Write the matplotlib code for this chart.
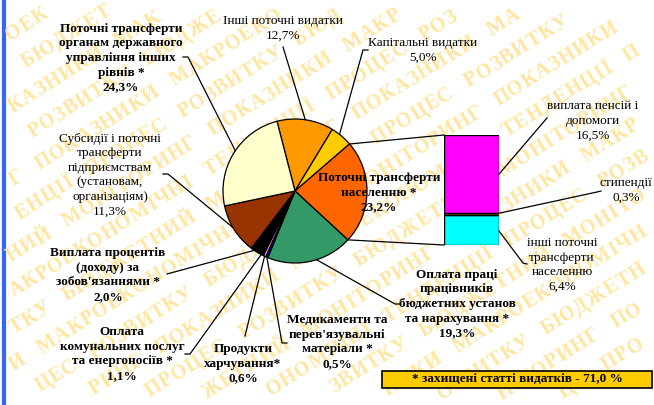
"""Budget expenditure structure pie with bar-of-pie breakout for transfers to population."""
import numpy as np
import matplotlib
matplotlib.use("Agg")
import matplotlib.pyplot as plt
from matplotlib.patches import Rectangle

plt.rcParams["font.family"] = ["Liberation Serif", "DejaVu Serif"]

# --- data (clockwise from the top) ---
LABELS = ["Інші поточні видатки", "Капітальні видатки", "Поточні трансферти населенню *",
          "Оплата праці працівників бюджетних установ та нарахування *",
          "Медикаменти та перев'язувальні матеріали *", "Продукти харчування*",
          "Оплата комунальних послуг та енергоносіїв *",
          "Виплата процентів (доходу) за зобов'язаннями *",
          "Субсидії і поточні трансферти підприємствам (установам, організаціям)",
          "Поточні трансферти органам державного управління інших рівнів *"]
SHARES = [12.7, 5.0, 23.2, 19.3, 0.5, 0.6, 1.1, 2.0, 11.3, 24.3]
COLORS = ["#FF9900", "#FFCC00", "#FF6600", "#339966", "#0000FF", "#FF99CC",
          "#000000", "#000000", "#993300", "#FFFFCC"]

SUB_LABELS = ["інші поточні трансферти населенню", "стипендії", "виплата пенсій і допомоги"]
SUB_SHARES = [6.4, 0.3, 16.5]          # stacked bottom -> top
SUB_COLORS = ["#00FFFF", "#808000", "#FF00FF"]

PROTECTED = 71.0
START = 104.5

WATERMARK = ["БЮДЖЕТНИЙ", "МОНІТОРИНГ", "ПОКАЗНИКИ", "МАКРОЕКОНОМІЧНІ",
             "ТЕНДЕНЦІЇ", "ПРОЦЕС", "РОЗВИТКУ"]

W, H = 654, 405
PIE_C, PIE_R = (295, 191), 72
BAR_BOX = (444, 135, 55, 110)   # x, y(top), w, h in pixels

fig = plt.figure(figsize=(W / 100, H / 100), dpi=100)
renderer = fig.canvas.get_renderer()

# background: watermark (placed letter by letter so nothing hangs over the edge)
bg = fig.add_axes([0, 0, 1, 1], zorder=0)
bg.set_xlim(0, W); bg.set_ylim(H, 0); bg.axis("off")

ANG = 32
ca, sa = np.cos(np.deg2rad(ANG)), np.sin(np.deg2rad(ANG))
wm_kw = dict(fontsize=14.5, fontweight="bold", color="#FFE6A0", ha="left", va="baseline",
             rotation_mode="anchor")
widths = {}


def char_w(ch):
    if ch not in widths:
        tmp = bg.text(0, 0, ch, **wm_kw)
        widths[ch] = tmp.get_window_extent(renderer).width
        tmp.remove()
    return widths[ch]


for k, y0 in enumerate(np.arange(10, H + W * sa / ca + 40, 37)):
    x0 = max(0.0, (y0 - H) * ca / sa)
    ys = y0 - x0 * sa / ca
    t = -((k * 53) % 140)
    wi = (k * 3) % len(WATERMARK)
    while True:
        px, py = x0 + t * ca, ys - t * sa
        if px > W + 20 or py < -20:
            break
        for ch in WATERMARK[wi % len(WATERMARK)]:
            px, py = x0 + t * ca, ys - t * sa
            if -15 < px < W and -5 < py < H + 15:
                txt = bg.text(px, py, ch, rotation=ANG, **wm_kw)
                bb = txt.get_window_extent(renderer)
                if bb.x0 < 0 or bb.y0 < 0 or bb.x1 > W - 1 or bb.y1 > H - 1:
                    txt.remove()
            t += char_w(ch) + 1.2
        t += 16
        wi += 1
bg.plot([4, 4], [0, H], color="#3366FF", lw=3, solid_capstyle="butt")

# pie
pax = fig.add_axes([(PIE_C[0] - PIE_R) / W, (H - PIE_C[1] - PIE_R) / H,
                    2 * PIE_R / W, 2 * PIE_R / H], zorder=1)
pax.pie(SHARES, colors=COLORS, startangle=START, counterclock=False, radius=1,
        wedgeprops=dict(edgecolor="black", linewidth=0.9))
pax.set_xlim(-1, 1); pax.set_ylim(-1, 1); pax.axis("off")

# bar of pie
bx, by, bw, bh = BAR_BOX
bax = fig.add_axes([bx / W, (H - by - bh) / H, bw / W, bh / H], zorder=1)
bottom = 0
for v, c in zip(SUB_SHARES, SUB_COLORS):
    bax.bar(0, v, bottom=bottom, width=1, color=c, edgecolor="black", linewidth=1)
    bottom += v
bax.set_xlim(-0.5, 0.5); bax.set_ylim(0, sum(SUB_SHARES)); bax.axis("off")

# overlay with labels and leader lines
ax = fig.add_axes([0, 0, 1, 1], zorder=2)
ax.set_xlim(0, W); ax.set_ylim(H, 0); ax.axis("off")
ax.patch.set_alpha(0)


def edge(deg):
    a = np.deg2rad(deg)
    return PIE_C[0] + PIE_R * np.cos(a), PIE_C[1] - PIE_R * np.sin(a)


bounds = START - np.cumsum([0] + SHARES) * 3.6
p_top = edge(bounds[2])
p_bot = edge(bounds[3])
ax.plot([p_top[0], bx], [p_top[1], by], color="black", lw=0.9)
ax.plot([p_bot[0], bx], [p_bot[1], by + bh], color="black", lw=0.9)


def lead(pts):
    xs, ys = zip(*pts)
    ax.plot(xs, ys, color="black", lw=0.9)


def pct(v):
    return f"{v:.1f}%".replace(".", ",")


def lab(x, y, text, bold=False, fs=9.5):
    ax.text(x, y, text, ha="center", va="center", fontsize=fs, linespacing=1.28,
            fontweight="bold" if bold else "normal")


lab(121, 58, "Поточні трансферти\nорганам державного\nуправління інших\nрівнів *\n" + pct(SHARES[9]), True)
lead([(183, 57), (188, 57), edge(146)])

lab(283, 28, "Інші поточні видатки\n" + pct(SHARES[0]))
lead([(283, 47), edge(81.8)])

lab(423, 50, "Капітальні видатки\n" + pct(SHARES[1]))
lead([(368, 50), (363, 50), edge(51.8)])

lab(110, 175, "Субсидії і поточні\nтрансферти\nпідприємствам\n(установам,\nорганізаціям)\n" + pct(SHARES[8]))
lead([(163, 174), (168, 174), edge(210.5)])

lab(108, 275, "Виплата процентів\n(доходу) за\nзобов'язаннями *\n" + pct(SHARES[7]), True)
lead([(167, 274), edge(-124.5)])

lab(122, 354, "Оплата\nкомунальних послуг\nта енергоносіїв *\n" + pct(SHARES[6]), True)
lead([(185, 354), (190, 354), edge(-118)])

lab(243, 364, "Продукти\nхарчування*\n" + pct(SHARES[5]), True)
lead([(245, 336), edge(-115)])

lab(337, 342, "Медикаменти та\nперев'язувальні\nматеріали *\n" + pct(SHARES[4]), True)
lead([(287, 343), (282, 343), edge(-113)])

lab(457, 304, "Оплата праці\nпрацівників\nбюджетних установ\nта нарахування *\n" + pct(SHARES[3]), True)
lead([(400, 304), (395, 304), edge(-72.6)])

lab(379, 193, "Поточні трансферти\nнаселенню *\n" + pct(SHARES[2]), True)

# breakout labels
sub_top = [by + bh - bh * sum(SUB_SHARES[:i + 1]) / sum(SUB_SHARES) for i in range(3)]
lab(593, 121, "виплата пенсій і\nдопомоги\n" + pct(SUB_SHARES[2]))
lead([(bx + bw, (sub_top[2] + sub_top[1]) / 2), (547, 118)])

lab(626, 190, "стипендії\n" + pct(SUB_SHARES[1]))
lead([(bx + bw, sub_top[1]), (597, 192), (601, 191)])

lab(562, 265, "інші поточні\nтрансферти\nнаселенню\n" + pct(SUB_SHARES[0]))
lead([(bx + bw, by + bh - 14), (523, 263), (527, 264)])

# protected items box
ax.add_patch(Rectangle((382, 371), 270, 17, facecolor="#FFCC00", edgecolor="black", lw=1.2))
ax.text(517, 379.5, "* захищені статті видатків - " + f"{PROTECTED:.1f} %".replace(".", ","),
        ha="center", va="center", fontsize=9.5, fontweight="bold")

fig.savefig("out.png", dpi=100)
